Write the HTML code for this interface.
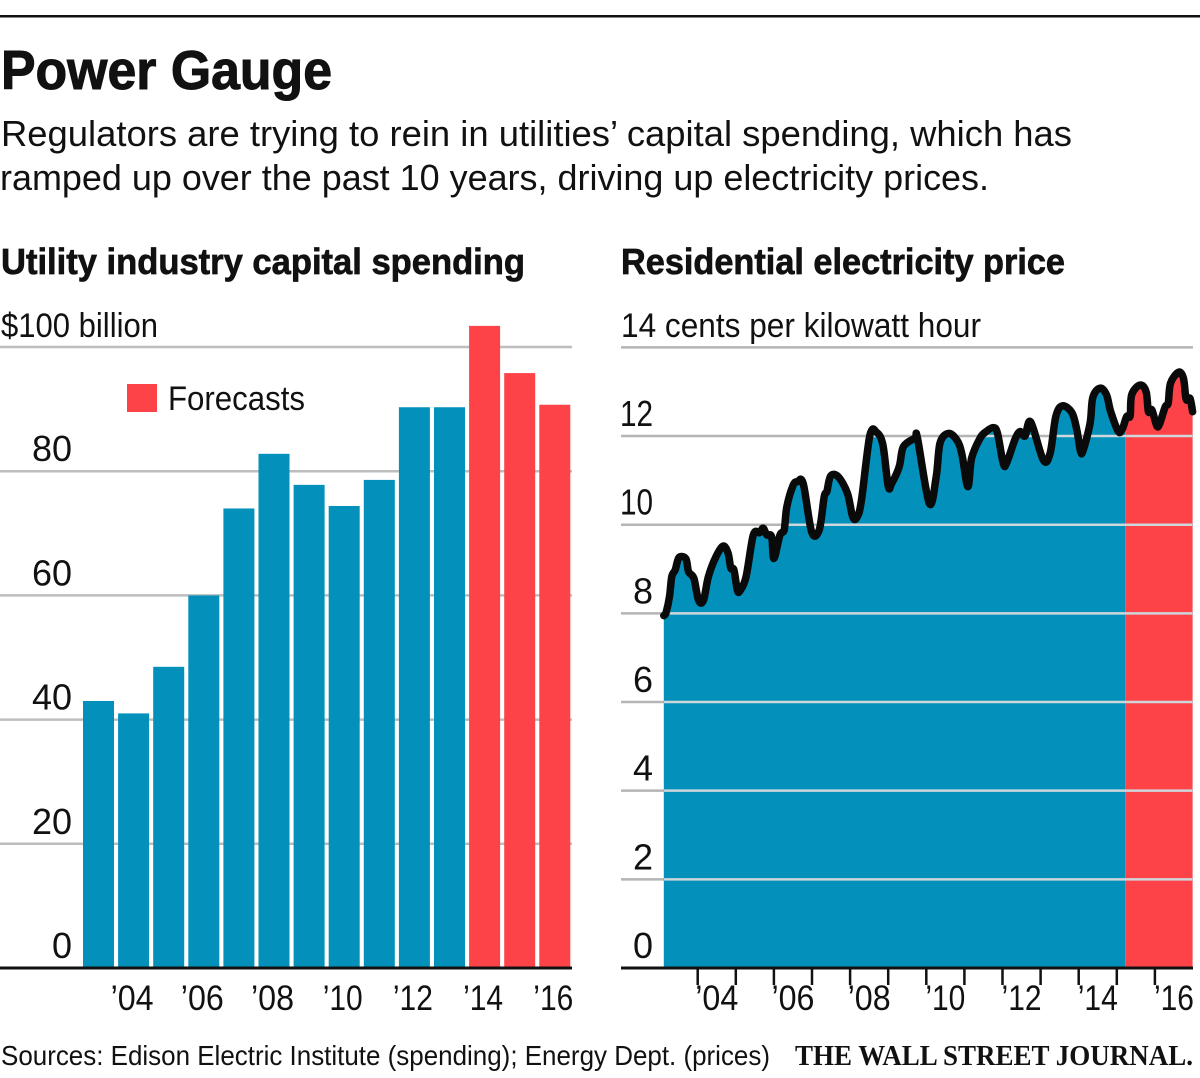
<!DOCTYPE html>
<html lang="en">
<head>
<meta charset="utf-8">
<title>Power Gauge</title>
<style>
html,body{margin:0;padding:0;background:#fff;}
svg{display:block;}
text{font-family:"Liberation Sans",sans-serif;fill:#111;}
</style>
</head>
<body>
<svg id="chart" xmlns="http://www.w3.org/2000/svg" width="1200" height="1078" viewBox="0 0 1200 1078">
  <rect x="0" y="15" width="1200" height="2.5" fill="#111"/>
  <text x="1" y="89" font-size="55" font-weight="700" stroke="#111" stroke-width="1" textLength="331" lengthAdjust="spacingAndGlyphs">Power Gauge</text>
  <text x="1" y="146" font-size="36" textLength="1071" lengthAdjust="spacingAndGlyphs">Regulators are trying to rein in utilities’ capital spending, which has</text>
  <text x="0" y="190" font-size="36" textLength="989" lengthAdjust="spacingAndGlyphs">ramped up over the past 10 years, driving up electricity prices.</text>
  <text x="1" y="274" font-size="36" font-weight="700" stroke="#111" stroke-width="0.7" textLength="524" lengthAdjust="spacingAndGlyphs">Utility industry capital spending</text>
  <text x="621" y="274" font-size="36" font-weight="700" stroke="#111" stroke-width="0.7" textLength="444" lengthAdjust="spacingAndGlyphs">Residential electricity price</text>
  <text x="1" y="337" font-size="34" textLength="157" lengthAdjust="spacingAndGlyphs">$100 billion</text>
  <text x="621" y="337" font-size="34" textLength="360" lengthAdjust="spacingAndGlyphs">14 cents per kilowatt hour</text>
  <g id="left-chart"></g>
  <g id="right-chart"></g>
  <rect x="127" y="384" width="30" height="28" fill="#fd4248"/>
  <text x="168" y="410" font-size="34" textLength="137" lengthAdjust="spacingAndGlyphs">Forecasts</text>
  <text x="1" y="1065" font-size="28" textLength="769" lengthAdjust="spacingAndGlyphs">Sources: Edison Electric Institute (spending); Energy Dept. (prices)</text>
  <text x="795" y="1065" font-size="28" font-weight="700" textLength="398" lengthAdjust="spacingAndGlyphs" style="font-family:'Liberation Serif',serif">THE WALL STREET JOURNAL.</text>
</svg>
<script>
// Left chart data
const spendYears = [2003,2004,2005,2006,2007,2008,2009,2010,2011,2012,2013,2014,2015,2016];
const spendValues = [43,41,48.5,60,74,82.8,77.8,74.4,78.6,90.3,90.3,103.4,95.8,90.7];
const spendFirstForecastYear = 2014;
const spendTicks = [0,20,40,60,80,100];
const spendTickLabels = ['0','20','40','60','80',''];
const spendYearLabels = [2004,2006,2008,2010,2012,2014,2016];
const spendYearText = ['’04','’06','’08','’10','’12','’14','’16'];

// Right chart data
const priceDates = [2003.11,2003.17,2003.26,2003.32,2003.41,2003.51,2003.69,2003.76,2003.90,2004.02,2004.15,2004.28,2004.48,2004.67,2004.80,2004.87,2004.95,2005.04,2005.11,2005.27,2005.46,2005.62,2005.72,2005.81,2005.94,2006.00,2006.16,2006.27,2006.34,2006.51,2006.62,2006.77,2006.99,2007.19,2007.32,2007.39,2007.49,2007.69,2007.93,2008.07,2008.19,2008.30,2008.52,2008.70,2008.86,2009.00,2009.09,2009.29,2009.40,2009.70,2009.77,2010.08,2010.26,2010.36,2010.58,2010.80,2010.93,2011.09,2011.19,2011.41,2011.57,2011.76,2011.87,2012.02,2012.11,2012.33,2012.46,2012.59,2012.74,2013.07,2013.25,2013.40,2013.57,2013.82,2013.95,2014.05,2014.12,2014.30,2014.37,2014.56,2014.73,2014.84,2015.04,2015.15,2015.26,2015.35,2015.39,2015.61,2015.77,2015.83,2015.92,2016.05,2016.13,2016.27,2016.35,2016.41,2016.62,2016.75,2016.82,2016.92,2016.99];
const priceValues = [7.95,8.02,8.38,8.83,8.98,9.26,9.23,8.94,8.79,8.30,8.29,8.83,9.28,9.52,9.35,9.02,8.98,8.53,8.51,8.83,9.77,9.82,9.92,9.77,9.73,9.24,9.77,9.88,10.41,10.90,10.97,10.93,9.84,9.88,10.63,10.75,11.10,11.08,10.71,10.17,10.18,10.56,12.02,12.08,11.80,10.87,10.93,11.31,11.76,11.95,11.95,10.48,11.08,11.84,12.06,11.91,11.61,10.86,11.50,11.95,12.10,12.19,12.06,11.38,11.40,11.93,12.10,12.00,12.32,11.46,11.61,12.44,12.68,12.53,12.14,11.65,11.69,12.29,12.87,13.08,12.93,12.55,12.10,12.17,12.44,12.45,12.93,13.15,13.00,12.55,12.59,12.23,12.29,12.66,12.74,13.19,13.44,13.30,12.83,12.85,12.55];
const priceForecastStart = 2015.22;
const priceTicks = [0,2,4,6,8,10,12,14];
const priceTickLabels = ['0','2','4','6','8','10','12',''];
const priceTickYears = [2004,2005,2006,2007,2008,2009,2010,2011,2012,2013,2014,2015,2016];
const priceYearLabels = [2004,2006,2008,2010,2012,2014,2016];
const priceYearText = ['’04','’06','’08','’10','’12','’14','’16'];

const NS = 'http://www.w3.org/2000/svg';
const BLUE = '#0391bb';
const RED = '#fd4248';

// Axis functions
const yLeft = v => 968 - v * 6.21;
const xLeft = yr => 83 + (yr - 2003) * 35.1;
const yRight = v => 968 - v * 44.33;
const xRight = yr => 659.6 + (yr - 2003) * 38.1;
const yearLabelWidth = s => s.indexOf('1') >= 0 ? 40 : 43;

function make(parent, tag, attrs, content) {
  const el = document.createElementNS(NS, tag);
  for (const k in attrs) el.setAttribute(k, attrs[k]);
  if (content !== undefined) el.textContent = content;
  parent.appendChild(el);
  return el;
}

// ---- Left chart ----
const L = document.getElementById('left-chart');
spendTicks.forEach((t, i) => {
  const g = make(L, 'line', {x1: 0, x2: 572, y1: yLeft(t), y2: yLeft(t), stroke: '#bdbdbd', 'stroke-width': 2.5});
  
  
  if (spendTickLabels[i]) {
    const lab = make(L, 'text', {x: 72, y: yLeft(t) - 10, 'font-size': 36, 'text-anchor': 'end'}, spendTickLabels[i]);
    
    
  }
});
spendValues.forEach((v, i) => {
  const b = make(L, 'rect', {
    x: xLeft(spendYears[i]), y: yLeft(v), width: 31, height: yLeft(0) - yLeft(v),
    fill: spendYears[i] >= spendFirstForecastYear ? RED : BLUE
  });
  
  
});
const lAxis = make(L, 'line', {x1: 0, x2: 572, y1: 968, y2: 968, stroke: '#111', 'stroke-width': 3});


spendYearLabels.forEach((yr, i) => {
  const t = make(L, 'text', {x: xLeft(yr) + 14, y: 1010, 'font-size': 35, 'text-anchor': 'middle', textLength: yearLabelWidth(spendYearText[i]), lengthAdjust: 'spacingAndGlyphs'}, spendYearText[i]);
  
  
});

// ---- Right chart ----
const R = document.getElementById('right-chart');
const px = priceDates.map(xRight);
const py = priceValues.map(yRight);
const linePts = px.map((x, i) => x.toFixed(1) + ',' + py[i].toFixed(1));
const first = priceDates[0];
const last = priceDates[priceDates.length - 1];
const areaPts = [xRight(first).toFixed(1) + ',' + yRight(0)].concat(linePts, [xRight(last).toFixed(1) + ',' + yRight(0)]).join(' ');

// Smooth curve through the read points
let lineD = 'M' + px[0].toFixed(1) + ' ' + py[0].toFixed(1);
for (let i = 0; i < px.length - 1; i++) {
  const a = Math.max(i - 1, 0), d = Math.min(i + 2, px.length - 1);
  const c1x = px[i] + (px[i + 1] - px[a]) / 6, c1y = py[i] + (py[i + 1] - py[a]) / 6;
  const c2x = px[i + 1] - (px[d] - px[i]) / 6, c2y = py[i + 1] - (py[d] - py[i]) / 6;
  lineD += 'C' + c1x.toFixed(1) + ' ' + c1y.toFixed(1) + ' ' + c2x.toFixed(1) + ' ' + c2y.toFixed(1) + ' ' + px[i + 1].toFixed(1) + ' ' + py[i + 1].toFixed(1);
}

const defs = make(R, 'defs', {});
const cpA = make(defs, 'clipPath', {id: 'clip-actual'});
make(cpA, 'rect', {x: 0, y: 0, width: xRight(priceForecastStart), height: 1078});
const cpF = make(defs, 'clipPath', {id: 'clip-forecast'});
make(cpF, 'rect', {x: xRight(priceForecastStart), y: 0, width: 1200 - xRight(priceForecastStart), height: 1078});
const cpAr = make(defs, 'clipPath', {id: 'clip-area'});
make(cpAr, 'polygon', {points: areaPts});

// Gridlines are grey over white and pale where they cross the filled area
priceTicks.forEach(t => {
  const g = make(R, 'line', {x1: 621, x2: 1193, y1: yRight(t), y2: yRight(t), stroke: '#b5b5b5', 'stroke-width': 2.5});
  
  
});
const areaA = make(R, 'polygon', {points: areaPts, fill: BLUE, 'clip-path': 'url(#clip-actual)'});


const areaF = make(R, 'polygon', {points: areaPts, fill: RED, 'clip-path': 'url(#clip-forecast)'});


const overArea = make(R, 'g', {'clip-path': 'url(#clip-area)'});


priceTicks.forEach((t, i) => {
  if (t > 0 && t < 14) {
    const g = make(overArea, 'line', {x1: xRight(first), x2: xRight(last), y1: yRight(t), y2: yRight(t), stroke: '#cdd6da', 'stroke-width': 2.5});
    
    
  }
  if (priceTickLabels[i]) {
    const attrs = {x: 653, y: yRight(t) - 10, 'font-size': 36, 'text-anchor': 'end'};
    if (priceTickLabels[i].length > 1) { attrs.textLength = 33; attrs.lengthAdjust = 'spacingAndGlyphs'; }
    const lab = make(R, 'text', attrs, priceTickLabels[i]);
    
    
  }
});
const priceLine = make(R, 'path', {d: lineD, fill: 'none', stroke: '#0a0a0a', 'stroke-width': 7.5, 'stroke-linejoin': 'round', 'stroke-linecap': 'round'});


const rAxis = make(R, 'line', {x1: 621, x2: 1193, y1: 968, y2: 968, stroke: '#111', 'stroke-width': 3});


priceTickYears.forEach(yr => {
  const tk = make(R, 'line', {x1: xRight(yr), x2: xRight(yr), y1: 968, y2: 985, stroke: '#111', 'stroke-width': 2.5});
  
  
});
priceYearLabels.forEach((yr, i) => {
  const t = make(R, 'text', {x: xRight(yr + 0.5), y: 1010, 'font-size': 35, 'text-anchor': 'middle', textLength: yearLabelWidth(priceYearText[i]), lengthAdjust: 'spacingAndGlyphs'}, priceYearText[i]);
  
  
});
</script>
</body>
</html>
